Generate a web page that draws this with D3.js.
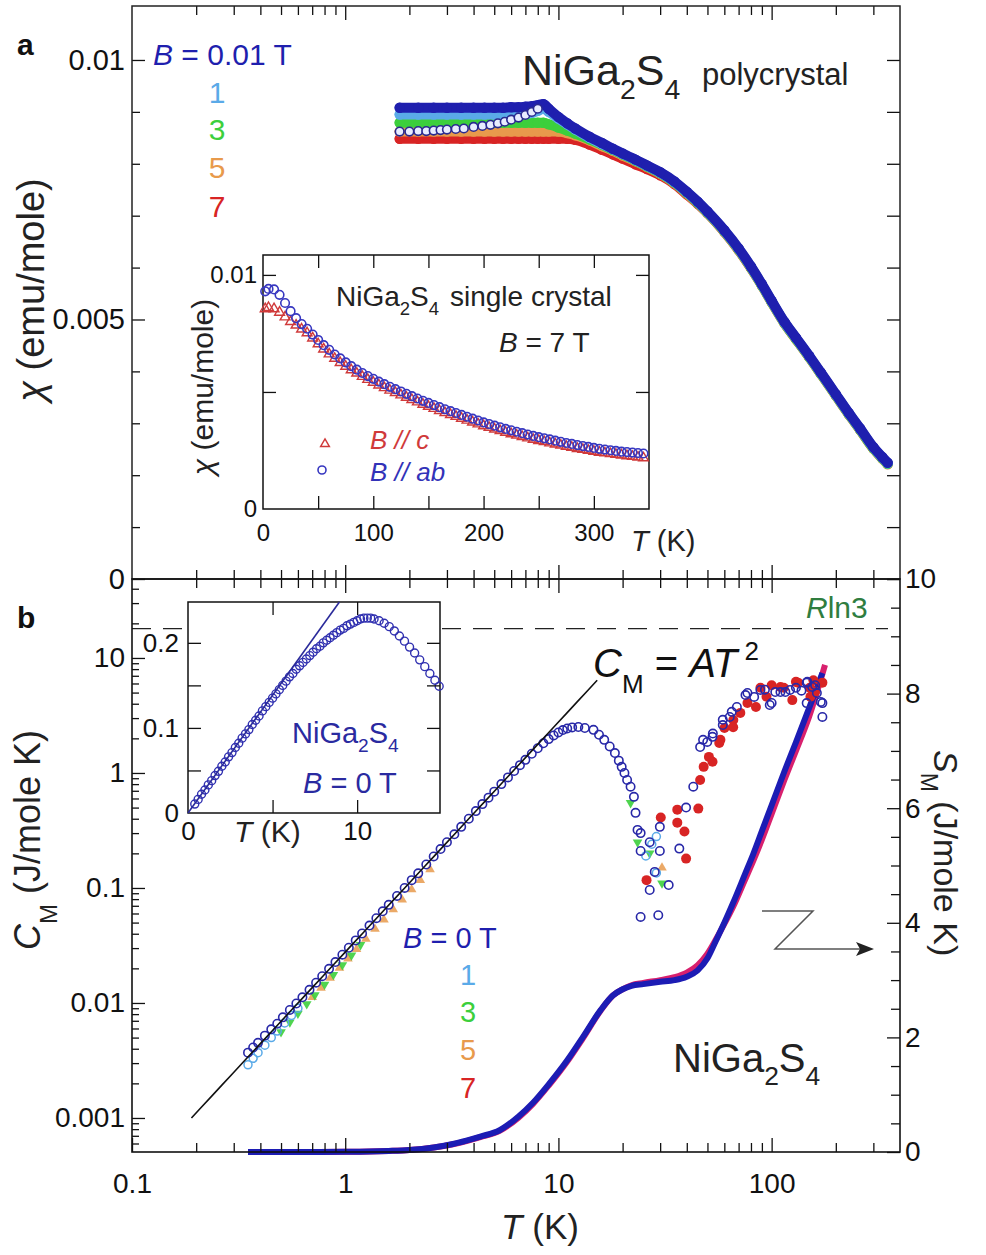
<!DOCTYPE html>
<html><head><meta charset="utf-8">
<script src="https://cdn.jsdelivr.net/npm/d3@7"></script>
<style>
body{margin:0;background:#fff}
text{font-family:"Liberation Sans",Arial,Helvetica,sans-serif}
</style>
</head><body>
<svg id="c" width="986" height="1255"></svg>
<script>
// ---------------- DATA ----------------
// Panel a: polycrystal susceptibility chi (emu/mole) vs T (K)
const aT      = [1.8,2.2,2.6,3.0,3.5,4.0,4.5,5.0,5.5,6.0,6.5,7.0,7.5,8.0,8.5,9.0,10,11,12,14,16,18,20,23,26,30,35,40,45,50,60,70,80,90,100,115,130,150,170,200,230,260,300,330,350];
const chiB001 = [.00908,.00908,.00908,.00908,.00908,.00908,.00908,.00908,.00908,.00909,.00909,.00910,.00911,.00913,.00915,.00906,.00890,.00878,.00868,.00852,.00840,.00829,.00820,.00808,.00797,.00784,.00766,.00746,.00727,.00708,.00672,.00637,.00602,.00568,.00536,.00495,.00465,.00430,.00398,.00356,.00320,.00290,.00254,.00235,.00224];
const chiB1   = [.00895,.00895,.00895,.00895,.00895,.00895,.00895,.00895,.00895,.00895,.00896,.00896,.00898,.00902,.00906,.00900,.00887,.00876,.00866,.00850,.00838,.00828,.00819,.00807,.00796,.00783,.00765,.00745,.00726,.00707,.00671,.00636,.00601,.00567,.00535,.00494,.00464,.00429,.00397,.00355,.00319,.00289,.00253,.00234,.00223];
const chiB3   = [.00879,.00879,.00879,.00879,.00879,.00879,.00879,.00879,.00879,.00879,.00879,.00879,.00879,.00879,.00879,.00876,.00870,.00864,.00858,.00847,.00837,.00827,.00818,.00806,.00795,.00782,.00764,.00744,.00725,.00706,.00670,.00635,.00600,.00566,.00534,.00493,.00463,.00428,.00396,.00354,.00318,.00288,.00252,.00233,.00222];
const chiB5   = [.00862,.00862,.00862,.00862,.00862,.00862,.00862,.00862,.00862,.00862,.00862,.00862,.00862,.00862,.00862,.00862,.00862,.00859,.00855,.00845,.00834,.00825,.00816,.00805,.00794,.00781,.00763,.00743,.00724,.00705,.00669,.00634,.00599,.00565,.00533,.00492,.00462,.00427,.00395,.00353,.00317,.00287,.00251,.00232,.00221];
const chiB7   = [.00848,.00848,.00848,.00848,.00848,.00848,.00848,.00848,.00848,.00848,.00848,.00848,.00848,.00848,.00848,.00848,.00848,.00848,.00846,.00837,.00827,.00818,.00810,.00799,.00790,.00778,.00761,.00741,.00723,.00705,.00669,.00634,.00599,.00566,.00534,.00493,.00463,.00428,.00396,.00354,.00318,.00288,.00252,.00233,.00222];
const aOpenT   = [1.8,2.0,2.2,2.4,2.6,2.8,3.0,3.3,3.6,4.0,4.4,4.8,5.2,5.6,6.0,6.5,7.0,7.5,8.0];
const chiOpen  = [.00862,.00862,.00863,.00863,.00864,.00865,.00866,.00867,.00868,.00871,.00873,.00875,.00878,.00881,.00885,.00889,.00894,.00900,.00906];
const aFields  = ["0.01 T","1","3","5","7"];

// Inset a: single crystal, B = 7 T
const iaT  = [2,5,10,15,20,25,30,35,40,45,50,55,60,65,70,75,80,85,90,95,100,105,110,115,120,125,130,135,140,145,150,155,160,165,170,175,180,185,190,195,200,205,210,215,220,225,230,235,240,245,250,255,260,265,270,275,280,285,290,295,300,305,310,315,320,325,330,335,340,345];
const chiAb = [.00930,.00940,.00938,.00915,.00880,.00845,.00815,.00790,.00770,.00745,.00722,.00700,.00680,.00660,.00643,.00626,.00610,.00595,.00581,.00568,.00556,.00544,.00533,.00522,.00512,.00502,.00492,.00482,.00472,.00462,.00453,.00444,.00435,.00426,.00418,.00410,.00402,.00394,.00386,.00378,.00370,.00363,.00356,.00349,.00342,.00336,.00330,.00324,.00318,.00312,.00307,.00302,.00297,.00292,.00287,.00282,.00278,.00273,.00269,.00265,.00261,.00257,.00254,.00251,.00248,.00245,.00243,.00241,.00239,.00237];
const chiC  = [.00855,.00860,.00855,.00840,.00820,.00800,.00785,.00768,.00752,.00730,.00705,.00683,.00662,.00643,.00625,.00609,.00594,.00580,.00566,.00553,.00541,.00529,.00518,.00507,.00497,.00487,.00477,.00467,.00457,.00447,.00438,.00429,.00420,.00411,.00403,.00395,.00387,.00379,.00371,.00363,.00355,.00348,.00341,.00334,.00327,.00321,.00315,.00309,.00303,.00297,.00292,.00287,.00282,.00277,.00272,.00267,.00263,.00258,.00254,.00250,.00246,.00242,.00239,.00236,.00233,.00230,.00227,.00224,.00221,.00218];

// Panel b: magnetic specific heat C_M (J/mole K)
const cT0 = [0.35,0.37,0.39,0.42,0.45,0.48,0.51,0.55,0.59,0.63,0.68,0.73,0.78,0.84,0.9,0.97,1.04,1.12,1.2,1.3,1.4,1.5,1.6,1.75,1.9,2.05,2.2,2.4,2.6,2.8,3.0,3.25,3.5,3.8,4.1,4.4,4.7,5.0,5.4,5.8,6.2,6.6,7.0,7.5,8.0,8.5,9.0,9.5,10,10.5,11,11.6,12.4,13.3,14.6,15.5,16.4,17.4,18.4,19.2,19.8,20.4,21.0,21.8,22.6,23.0,23.5,24.3,26.8,24.3,29.9,29.9,28.3,26.8,32.9,36.9,24.3,29.4,39.7,42.9,46.2,49.9,52.8,59.0,63.6,68.7,75.4,82.8,98,104,116,130,146,146,163,173,173,77,88.6,110,122,147,170,100,65,59,53,47.7,93,138,155,160];
const cB0 = [.0037,.0041,.0045,.0052,.0059,.0066,.0075,.0087,.0099,.0112,.0130,.0150,.0171,.0198,.0227,.0263,.0302,.0350,.0402,.0471,.0546,.0627,.0713,.0852,.100,.117,.134,.160,.188,.218,.250,.293,.340,.400,.466,.536,.610,.688,.800,.915,1.04,1.17,1.30,1.47,1.64,1.81,1.97,2.12,2.25,2.36,2.44,2.49,2.51,2.46,2.37,2.15,1.94,1.70,1.49,1.28,1.13,1.0,0.87,0.76,0.62,0.45,0.32,0.30,0.25,0.21,0.34,0.21,0.138,0.096,0.106,0.22,0.056,0.058,0.50,0.76,1.68,1.86,2.06,2.61,3.07,3.75,4.76,4.58,3.9,5.05,5.05,5.5,6.1,4.05,4.95,4.05,3.07,4.96,5.27,5.05,5.27,6.2,4.15,4.06,3.4,2.9,2.2,1.94,5.3,5.2,5.6,5.8];
const cT1 = [0.35,0.37,0.39,0.42,0.45,0.48,0.52,0.56,0.6,28.8,27.4,25.7,28.8];
const cB1 = [.0029,.0033,.0037,.0043,.0050,.0057,.0067,.0078,.0090,0.28,0.24,0.19,0.135];
const cT3 = [0.5,0.55,0.6,0.66,0.72,0.8,0.88,0.97,1.07,1.18,21.8,23.5,26.8,30.6];
const cB3 = [.0056,.0068,.0081,.0098,.0117,.0145,.0176,.0214,.026,.032,0.55,0.25,0.2,0.11];
const cT5 = [0.7,0.77,0.85,0.94,1.03,1.13,1.25,1.38,1.52,1.68,1.85,2.05,2.25,2.5,30.6];
const cB5 = [.0112,.0135,.0165,.0202,.0243,.0293,.036,.044,.053,.065,.079,.097,.117,.145,0.15];
const cT7 = [25.9,30.2,36.1,36.1,39,39.7,45.3,46.2,48,50.8,52.8,56.8,60.1,66.1,71.3,77,84.4,88.6,94.6,100,110,114,125,130,133,151,152,157,160,173,57.5,66];
const cB7 = [0.117,0.41,0.48,0.37,0.31,0.18,0.49,0.87,1.13,1.38,1.25,1.82,2.46,2.89,3.33,4.06,3.75,5.5,4.6,5.8,5.6,5.5,4.3,6.2,6.1,5.5,4.6,6.4,5.1,6.1,1.94,2.5];
const fitA = 0.0277;           // C_M = A T^2
const fitT = [0.19, 15.2];
const Rln3 = 9.134;

// Inset b: C_M/T (J/mole K^2) vs T, B = 0 T
const ibT  = [0.4,0.6,0.8,1.0,1.2,1.4,1.6,1.8,2.0,2.2,2.4,2.6,2.8,3.0,3.2,3.4,3.6,3.8,4.0,4.2,4.4,4.6,4.8,5.0,5.2,5.4,5.6,5.8,6.0,6.2,6.4,6.6,6.8,7.0,7.2,7.4,7.6,7.8,8.0,8.2,8.4,8.6,8.8,9.0,9.2,9.4,9.6,9.8,10.0,10.2,10.4,10.6,10.8,11.0,11.3,11.6,11.9,12.2,12.5,12.8,13.1,13.4,13.7,14.0,14.3,14.6,14.85];
const ibCT = [0.0105,0.016,0.022,0.027,0.033,0.038,0.044,0.049,0.055,0.060,0.066,0.071,0.077,0.082,0.088,0.093,0.098,0.104,0.109,0.114,0.120,0.125,0.130,0.135,0.140,0.145,0.150,0.155,0.160,0.164,0.169,0.173,0.177,0.181,0.185,0.189,0.193,0.196,0.200,0.203,0.206,0.209,0.212,0.215,0.217,0.220,0.222,0.224,0.226,0.228,0.229,0.229,0.229,0.228,0.226,0.223,0.219,0.214,0.208,0.202,0.195,0.188,0.180,0.172,0.164,0.156,0.149];

// Magnetic entropy S_M (J/mole K)
const sT  = [0.35,0.5,0.7,1,1.3,1.6,2,2.6,3.2,3.7,4.3,5.3,6.5,7.6,9,11,13,15.8,18,20,22,25,30,35,40,45,50,55,60,66,75,82,90,100,115,130,150,173];
const sB0 = [0,0,0.001,0.003,0.008,0.018,0.035,0.08,0.14,0.2,0.27,0.38,0.62,0.86,1.18,1.6,2.0,2.48,2.73,2.84,2.9,2.93,2.97,3.0,3.06,3.17,3.38,3.7,4.0,4.35,4.85,5.2,5.6,6.05,6.65,7.15,7.75,8.36];
const sT7 = [0.35,0.5,0.7,1,1.3,1.6,2,2.6,3.2,3.7,4.3,5.3,6.5,7.6,9,11,13,15.8,18,20,22,25,30,35,40,45,50,55,60,66,75,82,90,100,115,130,150,178];
const sB7 = [0,0,0.001,0.003,0.008,0.018,0.034,0.078,0.135,0.19,0.26,0.37,0.6,0.84,1.16,1.58,1.98,2.47,2.73,2.84,2.91,2.95,3.0,3.05,3.13,3.26,3.46,3.72,3.98,4.28,4.75,5.08,5.45,5.9,6.5,7.0,7.6,8.5];
const bFields = ["0 T","1","3","5","7"];

// Tick values / labels
const xMajor = [0.1,1,10,100];
const xLabels = ["0.1","1","10","100"];
const xMinor = [0.2,0.3,0.4,0.5,0.6,0.7,0.8,0.9,2,3,4,5,6,7,8,9,20,30,40,50,60,70,80,90,200,300];
const aYMajor = [0,0.005,0.01];
const aYLabels = ["0","0.005","0.01"];
const aYMinor = [0.001,0.002,0.003,0.004,0.006,0.007,0.008,0.009];
const cYMajor = [0.001,0.01,0.1,1,10];
const cYLabels = ["0.001","0.01","0.1","1","10"];
const cYMinor = [0.0006,0.0007,0.0008,0.0009,0.002,0.003,0.004,0.005,0.006,0.007,0.008,0.009,0.02,0.03,0.04,0.05,0.06,0.07,0.08,0.09,0.2,0.3,0.4,0.5,0.6,0.7,0.8,0.9,2,3,4,5,6,7,8,9,20,30,40];
const sYMajor = [0,2,4,6,8,10];
const sYLabels = ["0","2","4","6","8","10"];
const sYMinor = [0.5,1,1.5,2.5,3,3.5,4.5,5,5.5,6.5,7,7.5,8.5,9,9.5];
const iaXTicks = [50,100,150,200,250,300];
const iaXLabelV = [0,100,200,300];
const iaXLabels = ["0","100","200","300"];
const iaYTicks = [0.005,0.01];
const iaYLabelV = [0,0.01];
const iaYLabels = ["0","0.01"];
const ibXTicks = [5,10];
const ibXLabelV = [0,10];
const ibXLabels = ["0","10"];
const ibYTicks = [0.05,0.1,0.15,0.2];
const ibYLabelV = [0,0.1,0.2];
const ibYLabels = ["0","0.1","0.2"];

// ---------------- COLORS ----------------
const C_DB = "#1f1fae", C_LB = "#5aaae8", C_GR = "#3ccf3c", C_OR = "#e89a4c", C_RD = "#d82424", C_MG = "#d8206e";
const FONT = '"Liberation Sans",Arial,Helvetica,sans-serif';

// ---------------- SCALES ----------------
const L = 132, R = 900, TA = 6, MID = 579, BB = 1152;
const x  = d3.scaleLog().domain([0.1, 400]).range([L, R]);
const ya = d3.scaleLinear().domain([0, 0.01104]).range([MID, TA]);
const yC = d3.scaleLog().domain([0.000506, 48.6]).range([BB, MID]);
const yS = d3.scaleLinear().domain([0, 10]).range([BB, MID]);
const xia = d3.scaleLinear().domain([0, 350]).range([263, 649]);
const yia = d3.scaleLinear().domain([0, 0.01085]).range([509, 255]);
const xib = d3.scaleLinear().domain([0, 14.9]).range([188, 440]);
const yib = d3.scaleLinear().domain([0, 0.248]).range([813, 602]);

const svg = d3.select("#c");

function axisG(parent, gen, scale, vals, size, tx, ty, labels, pad, fs) {
  const ax = gen(scale).tickValues(vals).tickSize(size).tickPadding(pad || 3)
    .tickFormat(labels ? ((d, i) => labels[i]) : (() => ""));
  const g = parent.append("g").attr("transform", `translate(${tx},${ty})`).call(ax);
  g.select(".domain").remove();
  g.selectAll("line").attr("stroke", "#111").attr("stroke-width", 1.3);
  g.selectAll("text").attr("font-size", fs || 28).attr("font-family", FONT).attr("fill", "#111");
  return g;
}

function formula(parent, xx, yy, fs, color, subScale) {
  const ss = subScale || 0.62;
  const t = parent.append("text").attr("x", xx).attr("y", yy).attr("font-size", fs).attr("fill", color);
  t.append("tspan").text("NiGa");
  t.append("tspan").attr("dy", fs * 0.32).attr("font-size", fs * ss).text("2");
  t.append("tspan").attr("dy", -fs * 0.32).text("S");
  t.append("tspan").attr("dy", fs * 0.32).attr("font-size", fs * ss).text("4");
  return t;
}

// =============== PANEL A ===============
const gA = svg.append("g");
const lineA = d3.line().x(d => x(d[0])).y(d => ya(d[1])).curve(d3.curveMonotoneX);
const aSeries = [
  {v: chiB7, c: C_RD}, {v: chiB5, c: C_OR}, {v: chiB3, c: C_GR}, {v: chiB1, c: C_LB}, {v: chiB001, c: C_DB}
];
aSeries.forEach(s => {
  const pts = aT.map((t, i) => [t, s.v[i]]);
  gA.append("path").attr("d", lineA(pts)).attr("fill", "none").attr("stroke", s.c)
    .attr("stroke-width", 10).attr("stroke-linejoin", "round").attr("stroke-linecap", "round");
  gA.selectAll(null).data(pts).join("circle").attr("cx", d => x(d[0])).attr("cy", d => ya(d[1]))
    .attr("r", 5.2).attr("fill", s.c);
});
gA.selectAll(null).data(aOpenT.map((t, i) => [t, chiOpen[i]])).join("circle")
  .attr("cx", d => x(d[0])).attr("cy", d => ya(d[1])).attr("r", 4.3)
  .attr("fill", "#e8ecff").attr("stroke", "#2a2a90").attr("stroke-width", 1.6);

// Panel a axes
axisG(svg, d3.axisTop, x, xMajor.slice(1), -14, 0, TA);
axisG(svg, d3.axisTop, x, xMinor, -9, 0, TA);
axisG(svg, d3.axisBottom, x, xMajor.slice(1), -14, 0, MID);
axisG(svg, d3.axisBottom, x, xMinor, -9, 0, MID);
axisG(svg, d3.axisLeft, ya, aYMajor, -13, L, 0, aYLabels, 7, 29);
axisG(svg, d3.axisLeft, ya, aYMinor, -8, L, 0);
axisG(svg, d3.axisRight, ya, aYMajor.concat(aYMinor), -13, R, 0);

// Panel a labels
svg.append("text").attr("x", 17).attr("y", 55).attr("font-size", 30).attr("font-weight", "bold").attr("fill", "#111").text("a");
{
  const t = svg.append("text").attr("text-anchor", "middle").attr("font-size", 38).attr("fill", "#222")
    .attr("transform", "translate(44,290) rotate(-90)");
  t.append("tspan").attr("font-style", "italic").text("χ");
  t.append("tspan").text(" (emu/mole)");
}
formula(svg, 522, 85, 43, "#222", 0.66);
svg.append("text").attr("x", 702).attr("y", 85).attr("font-size", 31).attr("fill", "#222").text("polycrystal");
{
  const t = svg.append("text").attr("x", 153).attr("y", 65).attr("font-size", 30).attr("fill", C_DB);
  t.append("tspan").attr("font-style", "italic").text("B");
  t.append("tspan").text(" = " + aFields[0]);
  const cols = [C_LB, C_GR, C_OR, C_RD], ys = [103, 140, 178, 217];
  aFields.slice(1).forEach((f, i) => svg.append("text").attr("x", 217).attr("y", ys[i]).attr("text-anchor", "middle")
    .attr("font-size", 30).attr("fill", cols[i]).text(f));
}

// Inset a
const gIA = svg.append("g");
gIA.append("rect").attr("x", 263).attr("y", 255).attr("width", 386).attr("height", 254).attr("fill", "#fff")
  .attr("stroke", "#111").attr("stroke-width", 1.5);
const triSym = d3.symbol().type(d3.symbolTriangle).size(42);
gIA.selectAll(null).data(iaT.map((t, i) => [t, chiC[i]])).join("path").attr("d", triSym)
  .attr("transform", d => `translate(${xia(d[0])},${yia(d[1])})`)
  .attr("fill", "none").attr("stroke", "#d03a3a").attr("stroke-width", 1.4);
gIA.selectAll(null).data(iaT.map((t, i) => [t, chiAb[i]])).join("circle")
  .attr("cx", d => xia(d[0])).attr("cy", d => yia(d[1])).attr("r", 4.3)
  .attr("fill", "none").attr("stroke", "#3737c0").attr("stroke-width", 1.6);
axisG(gIA, d3.axisBottom, xia, iaXTicks, -13, 0, 509);
axisG(gIA, d3.axisTop, xia, iaXTicks, -13, 0, 255);
axisG(gIA, d3.axisLeft, yia, iaYTicks, -13, 263, 0);
axisG(gIA, d3.axisRight, yia, iaYTicks, -13, 649, 0);
axisG(gIA, d3.axisBottom, xia, iaXLabelV, 0, 0, 509, iaXLabels, 15, 24);
axisG(gIA, d3.axisLeft, yia, iaYLabelV, 0, 263, 0, iaYLabels, 6, 24);
{
  const t = gIA.append("text").attr("text-anchor", "middle").attr("font-size", 30).attr("fill", "#222")
    .attr("transform", "translate(213,387) rotate(-90)");
  t.append("tspan").attr("font-style", "italic").text("χ");
  t.append("tspan").text(" (emu/mole)");
  const tt = gIA.append("text").attr("x", 631).attr("y", 551).attr("font-size", 29).attr("fill", "#222");
  tt.append("tspan").attr("font-style", "italic").text("T");
  tt.append("tspan").text(" (K)");
  formula(gIA, 336, 306, 28, "#222", 0.66);
  gIA.append("text").attr("x", 450).attr("y", 306).attr("font-size", 28).attr("fill", "#222").text("single crystal");
  const b = gIA.append("text").attr("x", 499).attr("y", 352).attr("font-size", 28).attr("fill", "#222");
  b.append("tspan").attr("font-style", "italic").text("B");
  b.append("tspan").text(" = 7 T");
  gIA.append("path").attr("d", d3.symbol().type(d3.symbolTriangle).size(34)).attr("transform", "translate(325,444)")
    .attr("fill", "none").attr("stroke", "#d03a3a").attr("stroke-width", 1.4);
  gIA.append("circle").attr("cx", 322).attr("cy", 470).attr("r", 4).attr("fill", "none").attr("stroke", "#3737c0").attr("stroke-width", 1.6);
  gIA.append("text").attr("x", 370).attr("y", 449).attr("font-size", 26).attr("fill", "#d03a3a").attr("font-style", "italic").text("B // c");
  gIA.append("text").attr("x", 370).attr("y", 481).attr("font-size", 26).attr("fill", "#3232b8").attr("font-style", "italic").text("B // ab");
}

// =============== PANEL B ===============
const gB = svg.append("g");
// R ln3 dashed
gB.append("line").attr("x1", L).attr("x2", 888).attr("y1", yS(Rln3)).attr("y2", yS(Rln3))
  .attr("stroke", "#222").attr("stroke-width", 1.4).attr("stroke-dasharray", "19,12");
// Entropy curves
const lineS = d3.line().x(d => x(d[0])).y(d => yS(d[1])).curve(d3.curveMonotoneX);
gB.append("path").attr("d", lineS(sT7.map((t, i) => [t, sB7[i]]))).attr("fill", "none").attr("stroke", C_MG).attr("stroke-width", 6);
gB.append("path").attr("d", lineS(sT.map((t, i) => [t, sB0[i]]))).attr("fill", "none").attr("stroke", "#1c1cb4").attr("stroke-width", 6);

// Specific heat markers
const triS = d3.symbol().type(d3.symbolTriangle).size(40);
gB.selectAll(null).data(cT7.map((t, i) => [t, cB7[i]])).join("circle")
  .attr("cx", d => x(d[0])).attr("cy", d => yC(d[1])).attr("r", 5).attr("fill", C_RD);
gB.selectAll(null).data(cT5.map((t, i) => [t, cB5[i]])).join("path").attr("d", triS)
  .attr("transform", d => `translate(${x(d[0])},${yC(d[1])})`).attr("fill", C_OR).attr("opacity", 0.85);
gB.selectAll(null).data(cT3.map((t, i) => [t, cB3[i]])).join("path").attr("d", triS)
  .attr("transform", d => `translate(${x(d[0])},${yC(d[1])}) rotate(180)`).attr("fill", C_GR).attr("opacity", 0.9);
gB.selectAll(null).data(cT1.map((t, i) => [t, cB1[i]])).join("circle")
  .attr("cx", d => x(d[0])).attr("cy", d => yC(d[1])).attr("r", 4).attr("fill", "none").attr("stroke", C_LB).attr("stroke-width", 1.5);
gB.selectAll(null).data(cT0.map((t, i) => [t, cB0[i]])).join("circle")
  .attr("cx", d => x(d[0])).attr("cy", d => yC(d[1])).attr("r", 4.2).attr("fill", "none").attr("stroke", "#2828a8").attr("stroke-width", 1.6);
// fit line C = A T^2
const fitPts = d3.range(0, 41).map(i => {
  const t = fitT[0] * Math.pow(fitT[1] / fitT[0], i / 40);
  return [t, fitA * t * t];
});
gB.append("path").attr("d", d3.line().x(d => x(d[0])).y(d => yC(d[1]))(fitPts))
  .attr("fill", "none").attr("stroke", "#111").attr("stroke-width", 1.6);

// Arrow
gB.append("path").attr("d", "M762,911 L813,911 L775,949 L860,949").attr("fill", "none").attr("stroke", "#555").attr("stroke-width", 1.5);
gB.append("path").attr("d", "M874,949 L856,942 L860,949 L856,956 Z").attr("fill", "#222");

// Panel b axes
axisG(svg, d3.axisBottom, x, xMajor, -14, 0, BB, xLabels, 21, 28);
axisG(svg, d3.axisBottom, x, xMinor, -9, 0, BB);
axisG(svg, d3.axisTop, x, xMajor.slice(1), -14, 0, MID);
axisG(svg, d3.axisTop, x, xMinor, -9, 0, MID);
axisG(svg, d3.axisLeft, yC, cYMajor, -13, L, 0, cYLabels, 7, 28);
axisG(svg, d3.axisLeft, yC, cYMinor, -7, L, 0);
axisG(svg, d3.axisRight, yS, sYMajor, -13, R, 0, sYLabels, 5, 28);
axisG(svg, d3.axisRight, yS, sYMinor, -9, R, 0);

// Frames
svg.append("rect").attr("x", L).attr("y", TA).attr("width", R - L).attr("height", MID - TA).attr("fill", "none").attr("stroke", "#222").attr("stroke-width", 1.5);
svg.append("rect").attr("x", L).attr("y", MID).attr("width", R - L).attr("height", BB - MID).attr("fill", "none").attr("stroke", "#111").attr("stroke-width", 1.6);

// Inset b
const gIB = svg.append("g");
gIB.append("rect").attr("x", 188).attr("y", 602).attr("width", 252).attr("height", 211).attr("fill", "#fff")
  .attr("stroke", "#111").attr("stroke-width", 1.5);
gIB.selectAll(null).data(ibT.map((t, i) => [t, ibCT[i]])).join("circle").attr("cx", d => xib(d[0])).attr("cy", d => yib(d[1]))
  .attr("r", 4).attr("fill", "none").attr("stroke", "#3030b0").attr("stroke-width", 1.4);
const ibTop = yib.domain()[1] / fitA;
gIB.append("line").attr("x1", xib(0)).attr("y1", yib(0)).attr("x2", xib(ibTop)).attr("y2", yib(fitA * ibTop))
  .attr("stroke", "#2a2a9a").attr("stroke-width", 1.6);
axisG(gIB, d3.axisBottom, xib, ibXTicks, -13, 0, 813);
axisG(gIB, d3.axisTop, xib, ibXTicks, -13, 0, 602);
axisG(gIB, d3.axisLeft, yib, ibYTicks, -13, 188, 0);
axisG(gIB, d3.axisRight, yib, ibYTicks, -13, 440, 0);
axisG(gIB, d3.axisBottom, xib, ibXLabelV, 0, 0, 813, ibXLabels, 9, 26);
axisG(gIB, d3.axisLeft, yib, ibYLabelV, 0, 188, 0, ibYLabels, 9, 26);
{
  const tt = gIB.append("text").attr("x", 234).attr("y", 842).attr("font-size", 30).attr("fill", "#222");
  tt.append("tspan").attr("font-style", "italic").text("T");
  tt.append("tspan").text(" (K)");
  formula(gIB, 292, 743, 29, "#2a2aa0", 0.66);
  const b = gIB.append("text").attr("x", 303).attr("y", 793).attr("font-size", 29).attr("fill", "#2a2aa0");
  b.append("tspan").attr("font-style", "italic").text("B");
  b.append("tspan").text(" = 0 T");
}

// Panel b texts
svg.append("text").attr("x", 17).attr("y", 628).attr("font-size", 30).attr("font-weight", "bold").attr("fill", "#111").text("b");
{
  const r = svg.append("text").attr("x", 806).attr("y", 618).attr("font-size", 30).attr("fill", "#2f7d3f");
  r.append("tspan").attr("font-style", "italic").text("R");
  r.append("tspan").text("ln3");
  const c = svg.append("text").attr("x", 593).attr("y", 677).attr("font-size", 40).attr("fill", "#111");
  c.append("tspan").attr("font-style", "italic").text("C");
  c.append("tspan").attr("dy", 16).attr("font-size", 26).text("M");
  c.append("tspan").attr("dy", -16).text(" = ");
  c.append("tspan").attr("font-style", "italic").text("AT");
  c.append("tspan").attr("dy", -17).attr("font-size", 26).text(" 2");
  formula(svg, 673, 1072, 40, "#222", 0.66);
  const l = svg.append("text").attr("x", 403).attr("y", 948).attr("font-size", 29).attr("fill", C_DB);
  l.append("tspan").attr("font-style", "italic").text("B");
  l.append("tspan").text(" = " + bFields[0]);
  const cols = [C_LB, C_GR, C_OR, C_RD], ys = [985, 1022, 1060, 1098];
  bFields.slice(1).forEach((f, i) => svg.append("text").attr("x", 468).attr("y", ys[i]).attr("text-anchor", "middle")
    .attr("font-size", 29).attr("fill", cols[i]).text(f));
  const cl = svg.append("text").attr("font-size", 36).attr("fill", "#222").attr("transform", "translate(40,950) rotate(-90)");
  cl.append("tspan").attr("font-style", "italic").text("C");
  cl.append("tspan").attr("dy", 17).attr("font-size", 24).text("M");
  cl.append("tspan").attr("dy", -17).text(" (J/mole K)");
  const sl = svg.append("text").attr("font-size", 34).attr("fill", "#222").attr("transform", "translate(934,750) rotate(90)");
  sl.append("tspan").attr("font-style", "italic").text("S");
  sl.append("tspan").attr("dy", 13).attr("font-size", 23).text("M");
  sl.append("tspan").attr("dy", -13).text(" (J/mole K)");
  const xt = svg.append("text").attr("x", 540).attr("y", 1239).attr("text-anchor", "middle").attr("font-size", 35).attr("fill", "#222");
  xt.append("tspan").attr("font-style", "italic").text("T");
  xt.append("tspan").text(" (K)");
}
</script>
</body></html>
